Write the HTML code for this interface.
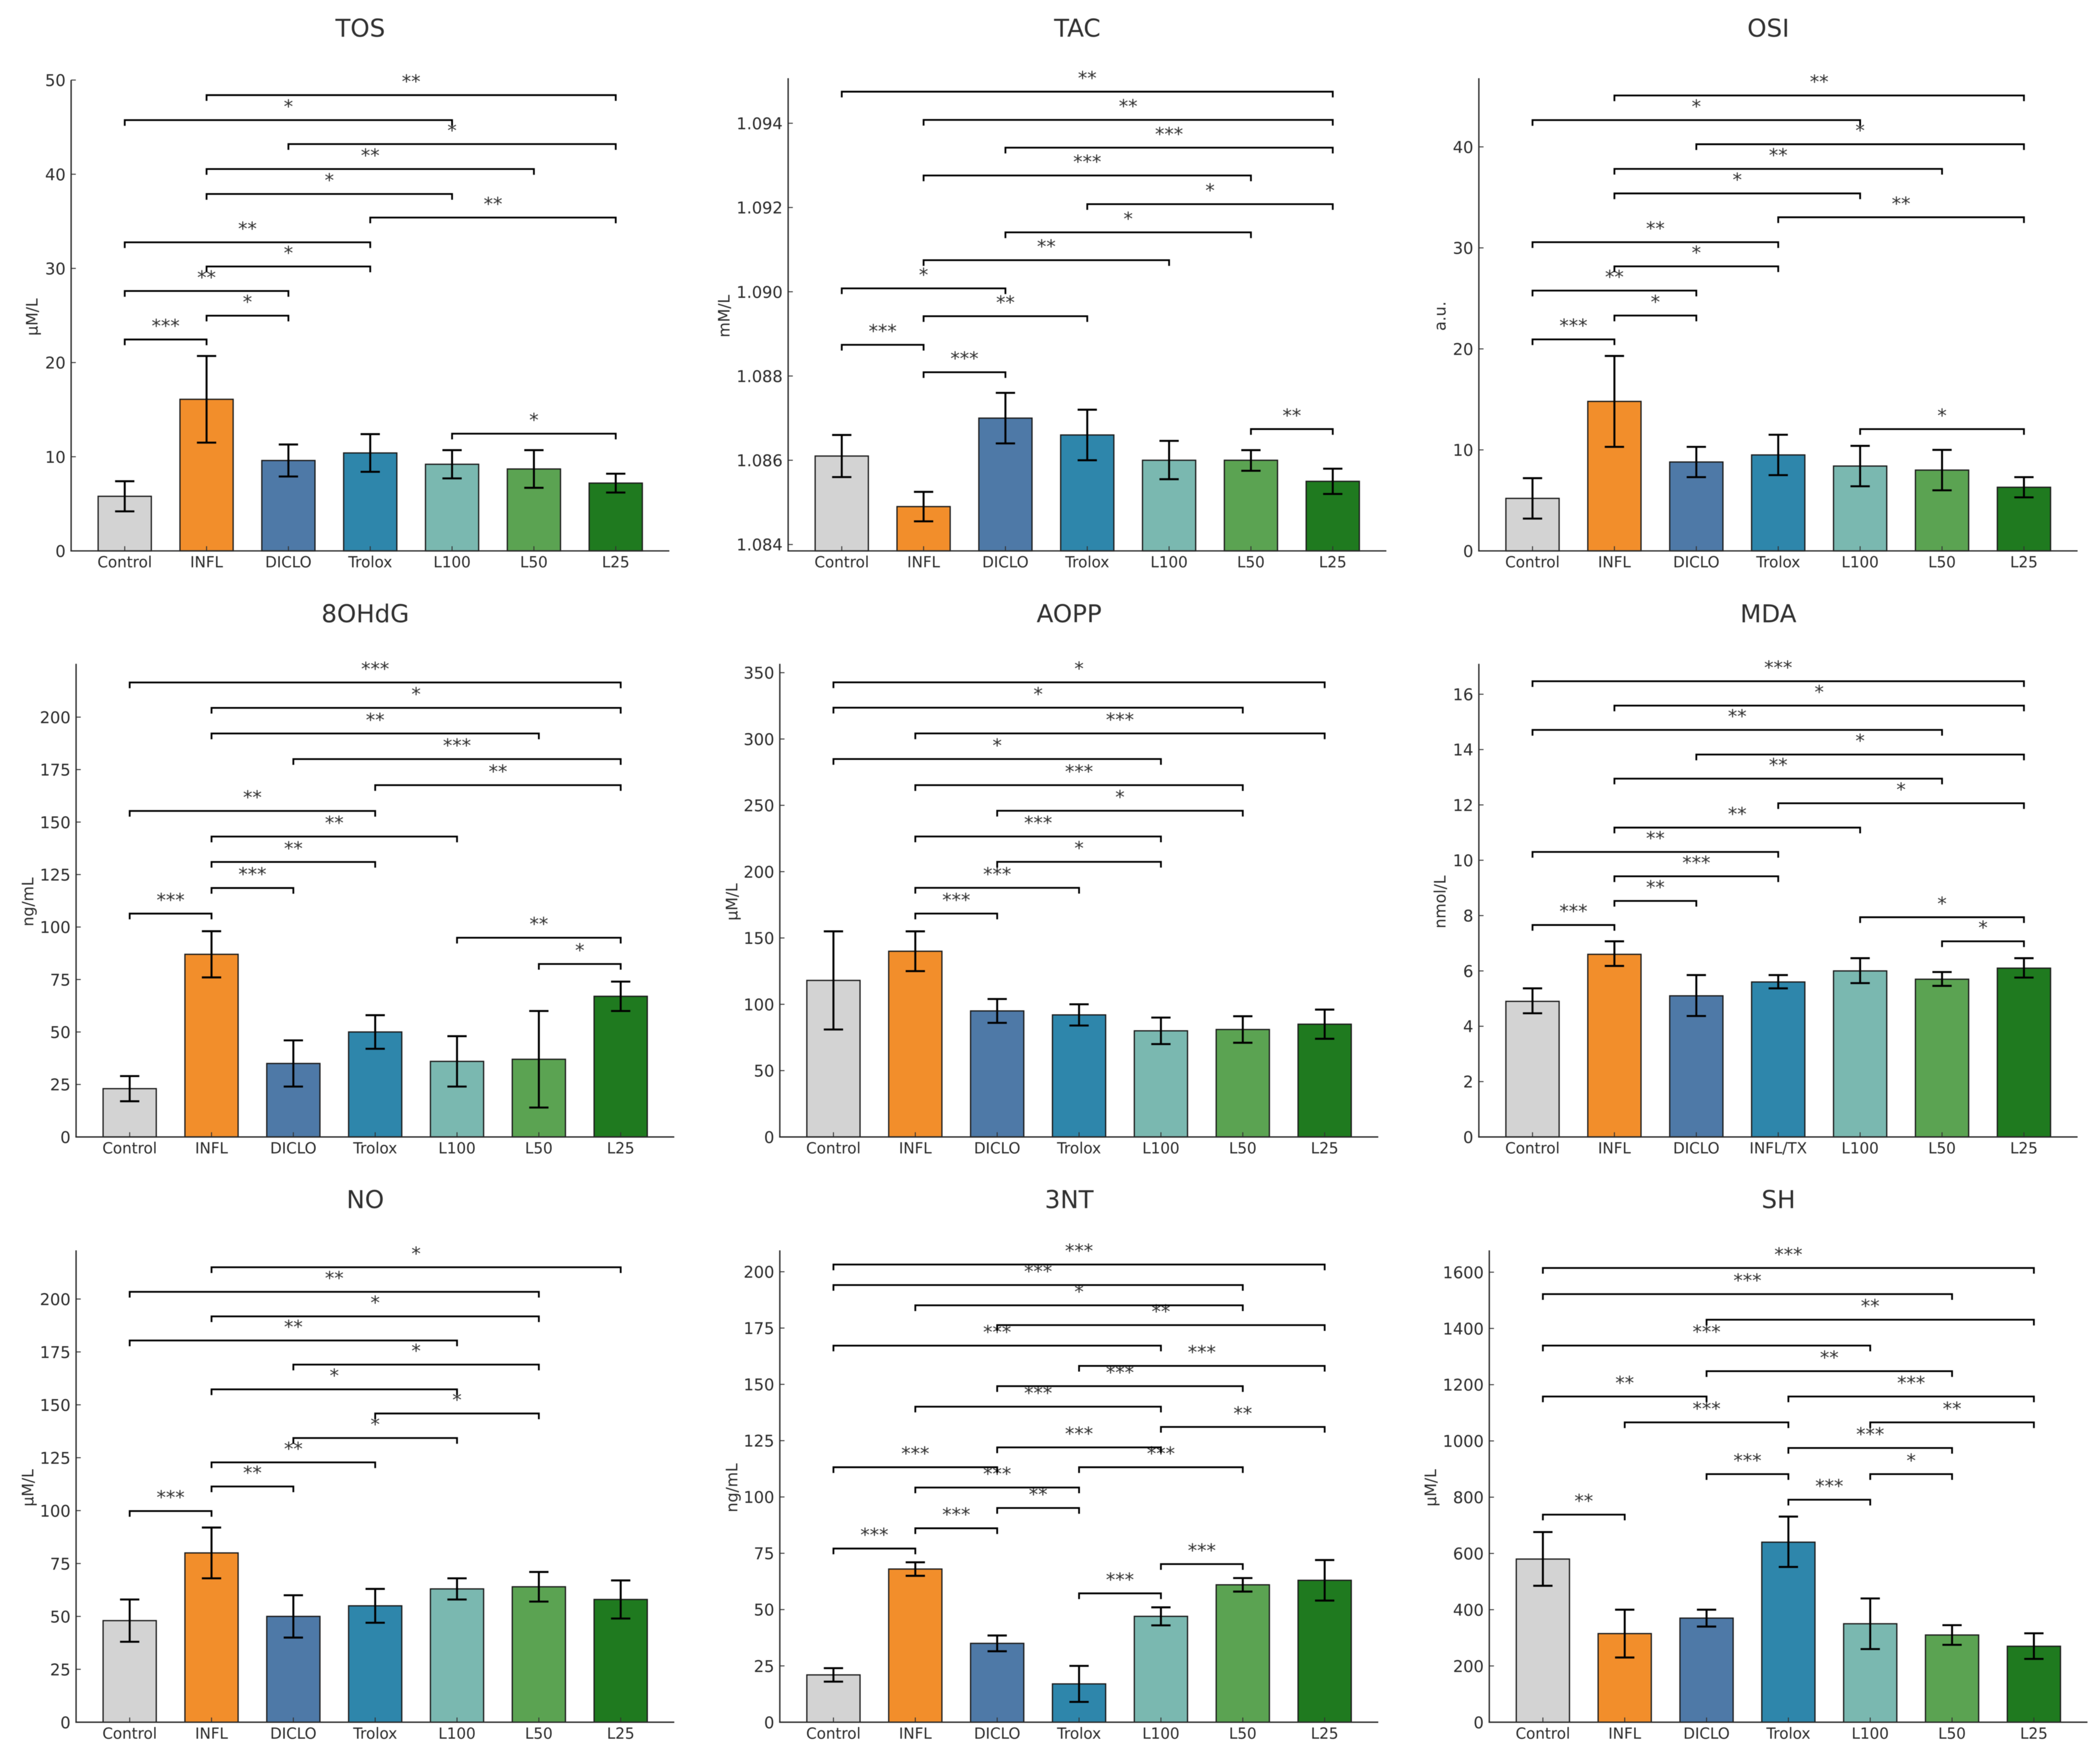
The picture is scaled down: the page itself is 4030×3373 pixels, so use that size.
<!DOCTYPE html>
<html lang="en">
<head>
<meta charset="utf-8">
<title>Oxidative stress markers by treatment group</title>
<style>
html,body{margin:0;padding:0;background:#fff;}
svg{display:block;filter:blur(0.6px);}
text{font-family:"DejaVu Sans","Liberation Sans",sans-serif;}
</style>
</head>
<body>
<svg id="figure" xmlns="http://www.w3.org/2000/svg" width="4030" height="3373" viewBox="0 0 4030 3373"></svg>
<script>
// ---- shared categories and colours ----
const groupLabels = ["Control", "INFL", "DICLO", "Trolox", "L100", "L50", "L25"];
const mdaGroupLabels = ["Control", "INFL", "DICLO", "INFL/TX", "L100", "L50", "L25"];
const barColors = ["#D3D3D3", "#F28E2B", "#4E79A7", "#2E86AB", "#7AB8B0", "#5BA352", "#1F7A1F"];

// ---- TOS ----
const tosValues = [5.8, 16.1, 9.6, 10.4, 9.2, 8.7, 7.2];
const tosLower = [4.2, 11.5, 7.9, 8.4, 7.7, 6.7, 6.2];
const tosUpper = [7.4, 20.7, 11.3, 12.4, 10.7, 10.7, 8.2];
const tosTicks = [0, 10, 20, 30, 40, 50];
const tosLimits = [0, 50];
const tosBrackets = [[0,1,22.45,"***"],[1,2,24.98,"*"],[0,2,27.6,"**"],[1,3,30.2,"*"],[0,3,32.77,"**"],[3,6,35.4,"**"],[1,4,37.9,"*"],[1,5,40.55,"**"],[2,6,43.2,"*"],[0,4,45.75,"*"],[1,6,48.4,"**"],[4,6,12.45,"*"]];

// ---- TAC ----
const tacValues = [1.0861, 1.0849, 1.0870, 1.0866, 1.0860, 1.0860, 1.0855];
const tacLower = [1.0856, 1.08455, 1.0864, 1.0860, 1.08555, 1.08575, 1.0852];
const tacUpper = [1.0866, 1.08525, 1.0876, 1.0872, 1.08646, 1.08624, 1.0858];
const tacTicks = [1.084, 1.086, 1.088, 1.090, 1.092, 1.094];
const tacLimits = [1.083848, 1.09507];
const tacBrackets = [[0,1,1.08874,"***"],[1,2,1.08809,"***"],[1,3,1.08942,"**"],[0,2,1.09008,"*"],[1,4,1.09075,"**"],[2,5,1.09141,"*"],[3,6,1.09208,"*"],[1,5,1.09276,"***"],[2,6,1.09342,"***"],[1,6,1.09408,"**"],[0,6,1.09475,"**"],[5,6,1.08674,"**"]];

// ---- OSI ----
const osiValues = [5.2, 14.8, 8.8, 9.5, 8.4, 8.0, 6.3];
const osiLower = [3.2, 10.3, 7.3, 7.5, 6.4, 6.0, 5.3];
const osiUpper = [7.2, 19.3, 10.3, 11.5, 10.4, 10.0, 7.3];
const osiTicks = [0, 10, 20, 30, 40];
const osiLimits = [0, 46.8];
const osiBrackets = [[0,1,20.94,"***"],[1,2,23.3,"*"],[0,2,25.77,"**"],[1,3,28.17,"*"],[0,3,30.56,"**"],[3,6,33.03,"**"],[1,4,35.39,"*"],[1,5,37.82,"**"],[2,6,40.26,"*"],[0,4,42.65,"*"],[1,6,45.09,"**"],[4,6,12.06,"*"]];

// ---- 8OHdG ----
const ohdgValues = [23, 87, 35, 50, 36, 37, 67];
const ohdgLower = [17, 76, 24, 42, 24, 14, 60];
const ohdgUpper = [29, 98, 46, 58, 48, 60, 74];
const ohdgTicks = [0, 25, 50, 75, 100, 125, 150, 175, 200];
const ohdgLimits = [0, 225.4];
const ohdgBrackets = [[0,1,106.4,"***"],[1,2,118.6,"***"],[1,3,131,"**"],[1,4,143.1,"**"],[0,3,155.3,"**"],[3,6,167.6,"**"],[2,6,180,"***"],[1,5,192.2,"**"],[1,6,204.4,"*"],[0,6,216.5,"***"],[4,6,94.9,"**"],[5,6,82.4,"*"]];

// ---- AOPP ----
const aoppValues = [118, 140, 95, 92, 80, 81, 85];
const aoppLower = [81, 125, 86, 84, 70, 71, 74];
const aoppUpper = [155, 155, 104, 100, 90, 91, 96];
const aoppTicks = [0, 50, 100, 150, 200, 250, 300, 350];
const aoppLimits = [0, 356.7];
const aoppBrackets = [[1,2,168.4,"***"],[1,3,187.8,"***"],[2,4,207.4,"*"],[1,4,226.5,"***"],[2,5,245.9,"*"],[1,5,265.2,"***"],[0,4,284.9,"*"],[1,6,304.2,"***"],[0,5,323.6,"*"],[0,6,342.7,"*"]];

// ---- MDA ----
const mdaValues = [4.9, 6.6, 5.1, 5.6, 6.0, 5.7, 6.1];
const mdaLower = [4.47, 6.18, 4.37, 5.37, 5.56, 5.46, 5.76];
const mdaUpper = [5.37, 7.07, 5.85, 5.85, 6.46, 5.96, 6.46];
const mdaTicks = [0, 2, 4, 6, 8, 10, 12, 14, 16];
const mdaLimits = [0, 17.1];
const mdaBrackets = [[0,1,7.66,"***"],[1,2,8.53,"**"],[1,3,9.42,"***"],[0,3,10.3,"**"],[1,4,11.18,"**"],[3,6,12.06,"*"],[1,5,12.95,"**"],[2,6,13.82,"*"],[0,5,14.71,"**"],[1,6,15.59,"*"],[0,6,16.47,"***"],[4,6,7.94,"*"],[5,6,7.07,"*"]];

// ---- NO ----
const noValues = [48, 80, 50, 55, 63, 64, 58];
const noLower = [38, 68, 40, 47, 58, 57, 49];
const noUpper = [58, 92, 60, 63, 68, 71, 67];
const noTicks = [0, 25, 50, 75, 100, 125, 150, 175, 200];
const noLimits = [0, 223];
const noBrackets = [[0,1,99.8,"***"],[1,2,111.4,"**"],[1,3,122.8,"**"],[2,4,134.3,"*"],[3,5,145.9,"*"],[1,4,157.3,"*"],[2,5,169,"*"],[0,4,180.4,"**"],[1,5,191.8,"*"],[0,5,203.4,"**"],[1,6,215,"*"]];

// ---- 3NT ----
const ntValues = [21, 68, 35, 17, 47, 61, 63];
const ntLower = [18, 65, 31.5, 9, 43, 58, 54];
const ntUpper = [24, 71, 38.5, 25, 51, 64, 72];
const ntTicks = [0, 25, 50, 75, 100, 125, 150, 175, 200];
const ntLimits = [0, 209.5];
const ntBrackets = [[0,1,77.1,"***"],[1,2,86.1,"***"],[2,3,95.1,"**"],[1,3,104.2,"***"],[0,2,113.2,"***"],[3,5,113.2,"***"],[2,4,122,"***"],[4,6,131.1,"**"],[1,4,140.1,"***"],[2,5,149.2,"***"],[3,6,158.2,"***"],[0,4,167.2,"***"],[2,6,176.3,"**"],[1,5,185.1,"*"],[0,5,194.1,"***"],[0,6,203.2,"***"],[3,4,57.2,"***"],[4,5,70.2,"***"]];

// ---- SH ----
const shValues = [580, 315, 370, 640, 350, 310, 270];
const shLower = [485, 230, 340, 552, 260, 275, 225];
const shUpper = [676, 400, 400, 731, 440, 345, 316];
const shTicks = [0, 200, 400, 600, 800, 1000, 1200, 1400, 1600];
const shLimits = [0, 1677.6];
const shBrackets = [[0,1,738,"**"],[3,4,791,"***"],[2,3,882,"***"],[4,5,882,"*"],[3,5,975,"***"],[1,3,1066,"***"],[4,6,1066,"**"],[0,2,1158,"**"],[3,6,1158,"***"],[2,5,1248,"**"],[0,4,1339,"***"],[2,6,1431,"**"],[0,5,1522,"***"],[0,6,1615,"***"]];

// ---- panel wiring (layout only) ----
const rowBoxes = [[150, 1057, 70.5], [1273.6, 2181.4, 1194], [2399, 3304.3, 2318]];
const panels = [
  {key:"tos", title:"TOS", unit:"µM/L", cats:groupLabels, v:tosValues, lo:tosLower, hi:tosUpper, ticks:tosTicks, lim:tosLimits, br:tosBrackets, left:136.5, right:1284.5, row:0, labelX:61, dec:0, topOverride:153.6},
  {key:"tac", title:"TAC", unit:"mM/L", cats:groupLabels, v:tacValues, lo:tacLower, hi:tacUpper, ticks:tacTicks, lim:tacLimits, br:tacBrackets, left:1512.5, right:2660.5, row:0, labelX:1389, dec:3},
  {key:"osi", title:"OSI", unit:"a.u.", cats:groupLabels, v:osiValues, lo:osiLower, hi:osiUpper, ticks:osiTicks, lim:osiLimits, br:osiBrackets, left:2838, right:3987, row:0, labelX:2763, dec:0},
  {key:"ohdg", title:"8OHdG", unit:"ng/mL", cats:groupLabels, v:ohdgValues, lo:ohdgLower, hi:ohdgUpper, ticks:ohdgTicks, lim:ohdgLimits, br:ohdgBrackets, left:146, right:1294, row:1, labelX:53, dec:0},
  {key:"aopp", title:"AOPP", unit:"µM/L", cats:groupLabels, v:aoppValues, lo:aoppLower, hi:aoppUpper, ticks:aoppTicks, lim:aoppLimits, br:aoppBrackets, left:1496.5, right:2645, row:1, labelX:1404, dec:0},
  {key:"mda", title:"MDA", unit:"nmol/L", cats:mdaGroupLabels, v:mdaValues, lo:mdaLower, hi:mdaUpper, ticks:mdaTicks, lim:mdaLimits, br:mdaBrackets, left:2838, right:3987, row:1, labelX:2763, dec:0},
  {key:"no", title:"NO", unit:"µM/L", cats:groupLabels, v:noValues, lo:noLower, hi:noUpper, ticks:noTicks, lim:noLimits, br:noBrackets, left:146, right:1294, row:2, labelX:53, dec:0},
  {key:"3nt", title:"3NT", unit:"ng/mL", cats:groupLabels, v:ntValues, lo:ntLower, hi:ntUpper, ticks:ntTicks, lim:ntLimits, br:ntBrackets, left:1496.5, right:2645, row:2, labelX:1404, dec:0},
  {key:"sh", title:"SH", unit:"µM/L", cats:groupLabels, v:shValues, lo:shLower, hi:shUpper, ticks:shTicks, lim:shLimits, br:shBrackets, left:2858, right:4006, row:2, labelX:2745, dec:0}
];

const NS = "http://www.w3.org/2000/svg";
const figure = document.getElementById("figure");

function make(parent, tag, attrs, content) {
  const el = document.createElementNS(NS, tag);
  for (const k in attrs) el.setAttribute(k, attrs[k]);
  if (content !== undefined) el.textContent = content;
  parent.appendChild(el);
  return el;
}

function drawPanel(p) {
  const box = rowBoxes[p.row];
  const plotTop = p.topOverride || box[0];
  const plotBottom = box[1];
  const xMin = -0.655, xMax = 6.655;
  const xScale = function (i) { return p.left + (i - xMin) * (p.right - p.left) / (xMax - xMin); };
  const yScale = function (val) { return plotBottom - (val - p.lim[0]) * (plotBottom - plotTop) / (p.lim[1] - p.lim[0]); };
  const halfBar = 0.325 * (p.right - p.left) / (xMax - xMin);

  const g = make(figure, "g", {});
  
  

  const title = make(g, "text", {x: (p.left + p.right) / 2 - 19, y: box[2], "text-anchor": "middle", "font-size": 47, fill: "#303030"}, p.title);
  
  

  const yLabelY = (plotTop + plotBottom) / 2 + 3;
  const yLabel = make(g, "text", {transform: "translate(" + (p.labelX + 11) + "," + yLabelY + ") rotate(-90)", "text-anchor": "middle", "font-size": 30, fill: "#2b2b2b"}, p.unit);
  
  

  p.v.forEach(function (val, i) {
    const top = yScale(val);
    const bar = make(g, "rect", {x: xScale(i) - halfBar, y: top, width: 2 * halfBar, height: plotBottom - top, fill: barColors[i], stroke: "#1c1c1c", "stroke-width": 2.4});
    
    
  });

  p.v.forEach(function (val, i) {
    const cx = xScale(i), yLo = yScale(p.lo[i]), yHi = yScale(p.hi[i]);
    const err = make(g, "path", {d: "M" + cx + " " + yLo + "V" + yHi + "M" + (cx - 18.5) + " " + yHi + "H" + (cx + 18.5) + "M" + (cx - 18.5) + " " + yLo + "H" + (cx + 18.5), fill: "none", stroke: "#000", "stroke-width": 3.8});
    
    
  });

  p.br.forEach(function (b, n) {
    const x1 = xScale(b[0]), x2 = xScale(b[1]), y = yScale(b[2]);
    const path = make(g, "path", {d: "M" + x1 + " " + (y + 11) + "V" + y + "H" + x2 + "V" + (y + 11), fill: "none", stroke: "#000", "stroke-width": 3.4});
    
    
    const star = make(g, "text", {x: (x1 + x2) / 2, y: y - 14, "text-anchor": "middle", "font-size": 36, fill: "#333"}, b[3]);
    
    
  });

  p.cats.forEach(function (c, i) {
    const cx = xScale(i);
    const tick = make(g, "line", {x1: cx, x2: cx, y1: plotBottom, y2: plotBottom - 9, stroke: "#333", "stroke-width": 1.8});
    
    
    const lab = make(g, "text", {x: cx, y: plotBottom + 31.5, "text-anchor": "middle", "font-size": 29, fill: "#2b2b2b"}, c);
    
    
  });

  p.ticks.forEach(function (t) {
    const y = yScale(t);
    const tick = make(g, "line", {x1: p.left, x2: p.left + 9, y1: y, y2: y, stroke: "#333", "stroke-width": 1.8});
    
    
    const lab = make(g, "text", {x: p.left - 10.5, y: y + 11.5, "text-anchor": "end", "font-size": 31, fill: "#2b2b2b"}, t.toFixed(p.dec));
    
    
  });

  const spineY = make(g, "line", {x1: p.left, x2: p.left, y1: plotTop, y2: plotBottom, stroke: "#2a2a2a", "stroke-width": 2.6});
  
  
  const spineX = make(g, "line", {x1: p.left - 1.3, x2: p.right, y1: plotBottom, y2: plotBottom, stroke: "#2a2a2a", "stroke-width": 2.6});
  
  
}

panels.forEach(drawPanel);
</script>
</body>
</html>
